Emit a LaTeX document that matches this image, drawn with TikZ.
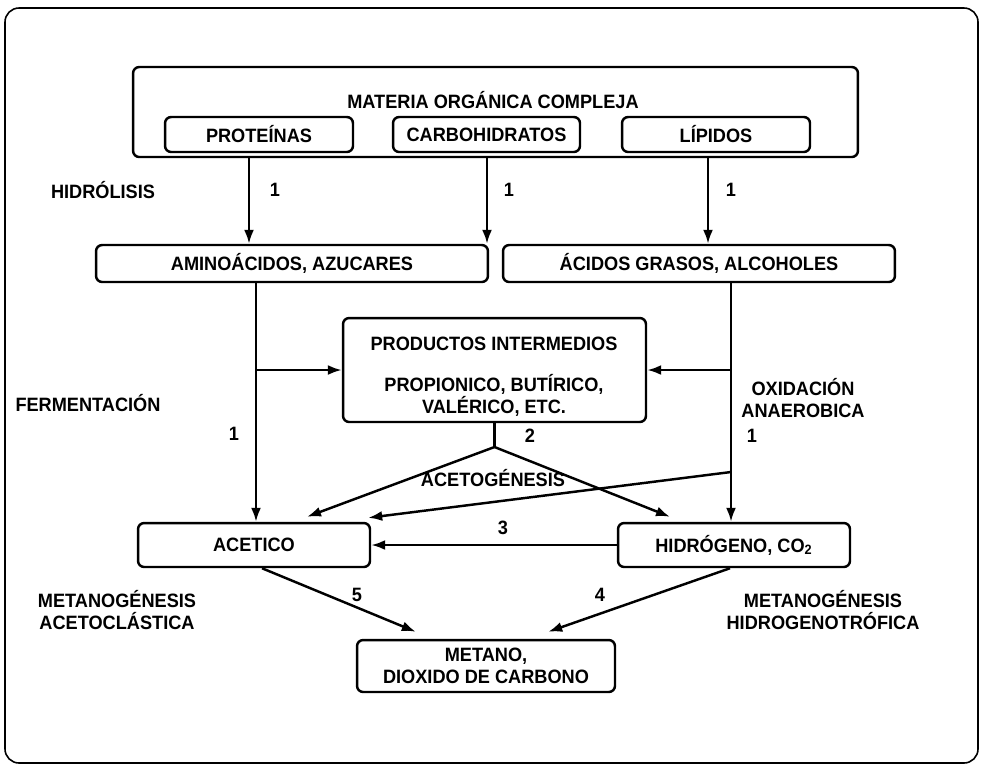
\documentclass[tikz,border=0pt]{standalone}
\usepackage{fontspec}
\setmainfont{Liberation Sans}[FakeStretch=0.94]
\usetikzlibrary{arrows.meta,calc}

\newcommand{\diagfont}{\fontsize{11}{12.5}\selectfont\bfseries}

\tikzset{
  box/.style={draw, rounded corners=3.5pt, line width=1.4pt, font=\diagfont, align=center, inner sep=0pt},
  lbl/.style={font=\diagfont, align=center, inner sep=1pt},
  arr/.style={line width=1.4pt, -{Latex[length=2.8mm,width=2mm]}},
  con/.style={line width=1.4pt},
}

\begin{document}
\begin{tikzpicture}[x=0.02cm, y=-0.02cm]
  \useasboundingbox (0,0) rectangle (983,769);
  % Frame
  \draw[line width=0.9pt, rounded corners=8pt] (5,8) rectangle (978,763);

  % Materia organica
  \node[box, minimum width=14.5cm, minimum height=1.8cm] (moc) at (495.5,112) {};
  \node[lbl] (mocttl) at (493,100) {MATERIA ORGÁNICA COMPLEJA};
  \node[box, minimum width=3.76cm, minimum height=0.7cm] (prot) at (259,134.5) {PROTEÍNAS};
  \node[box, minimum width=3.74cm, minimum height=0.7cm] (carb) at (486.5,134.5) {CARBOHIDRATOS};
  \node[box, minimum width=3.76cm, minimum height=0.7cm] (lip) at (716,134.5) {LÍPIDOS};

  % Hidrolisis products
  \node[box, minimum width=7.84cm, minimum height=0.74cm] (amino) at (292,263.5) {AMINOÁCIDOS, AZUCARES};
  \node[box, minimum width=7.84cm, minimum height=0.74cm] (acidos) at (699,263.5) {ÁCIDOS GRASOS, ALCOHOLES};

  % Intermedios
  \node[box, minimum width=6.06cm, minimum height=2.08cm] (prod) at (494.5,370) {};
  \node[lbl] (prodtxt) at (494,377) {PRODUCTOS INTERMEDIOS\\[11pt]PROPIONICO, BUTÍRICO,\\VALÉRICO, ETC.};

  % Acetico, hidrogeno, metano
  \node[box, minimum width=4.64cm, minimum height=0.88cm] (acet) at (254,545) {ACETICO};
  \node[box, minimum width=4.64cm, minimum height=0.88cm] (hidro) at (734,545) {HIDRÓGENO, CO\textsubscript{2}};
  \node[box, minimum width=5.16cm, minimum height=1.04cm] (met) at (486,666) {METANO,\\DIOXIDO DE CARBONO};

  % Hidrolisis
  \coordinate (h1) at (249,0);
  \coordinate (h2) at (487,0);
  \coordinate (h3) at (708,0);
  \draw[arr] (moc.south -| h1) -- (amino.north -| h1);
  \draw[arr] (moc.south -| h2) -- (amino.north -| h2);
  \draw[arr] (moc.south -| h3) -- (acidos.north -| h3);

  % Fermentacion and oxidacion
  \coordinate (fl) at (256,0);
  \coordinate (fr) at (731,0);
  \draw[arr] (amino.south -| fl) -- (acet.north -| fl);
  \draw[arr] (prod.west -| fl) -- (prod.west);
  \draw[arr] (acidos.south -| fr) -- (hidro.north -| fr);
  \draw[arr] (prod.east -| fr) -- (prod.east);

  % Acetogenesis
  \coordinate (apex) at (494.5,447);
  \coordinate (ox) at (731,472);
  \draw[con] (prod.south) -- (apex);
  \draw[arr] (apex) -- ($(acet.north)+(53,-5)$);
  \draw[arr] (apex) -- ($(hidro.north)+(-64,-5)$);
  \draw[arr] (ox) -- ($(acet.north east)+(-3,-4)$);
  \draw[arr] (hidro.west) -- (acet.east);

  % Metanogenesis
  \draw[arr] ($(acet.south)+(8,0)$) -- ($(met.north west)+(60,-7)$);
  \draw[arr] ($(hidro.south)+(-4,0)$) -- ($(met.north east)+(-68,-7)$);

  % Labels
  \node[lbl] (hidrol) at (103,190) {HIDRÓLISIS};
  \node[lbl] (n1a) at (275,190) {1};
  \node[lbl] (n1b) at (509,190) {1};
  \node[lbl] (n1c) at (731,190) {1};
  \node[lbl] (ferm) at (88,403) {FERMENTACIÓN};
  \node[lbl] (n1d) at (234,434) {1};
  \node[lbl] (oxid) at (803,398) {OXIDACIÓN\\ANAEROBICA};
  \node[lbl] (n1e) at (752,436) {1};
  \node[lbl] (n2) at (530,436) {2};
  \node[lbl] (acetog) at (493,478) {ACETOGÉNESIS};
  \node[lbl] (n3) at (503,528) {3};
  \node[lbl] (n5) at (357,595) {5};
  \node[lbl] (n4) at (600,595) {4};
  \node[lbl] (metac) at (117,610) {METANOGÉNESIS\\ACETOCLÁSTICA};
  \node[lbl] (methid) at (823,610) {METANOGÉNESIS\\HIDROGENOTRÓFICA};
\end{tikzpicture}
\end{document}
